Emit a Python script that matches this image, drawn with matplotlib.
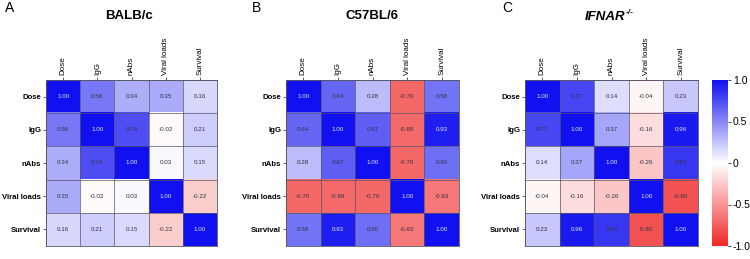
import numpy as np
import matplotlib
matplotlib.use("Agg")
import matplotlib.pyplot as plt
from matplotlib.colors import LinearSegmentedColormap

plt.rcParams['font.family'] = ['Liberation Sans', 'DejaVu Sans']

labels = ["Dose", "IgG", "nAbs", "Viral loads", "Survival"]

balbc = [
    [1.00, 0.56, 0.34, 0.35, 0.16],
    [0.56, 1.00, 0.74, -0.02, 0.21],
    [0.34, 0.74, 1.00, 0.03, 0.15],
    [0.35, -0.02, 0.03, 1.00, -0.22],
    [0.16, 0.21, 0.15, -0.22, 1.00],
]
c57 = [
    [1.00, 0.64, 0.28, -0.70, 0.58],
    [0.64, 1.00, 0.67, -0.69, 0.93],
    [0.28, 0.67, 1.00, -0.70, 0.60],
    [-0.70, -0.69, -0.70, 1.00, -0.63],
    [0.58, 0.93, 0.60, -0.63, 1.00],
]
ifnar = [
    [1.00, 0.77, 0.14, -0.04, 0.23],
    [0.77, 1.00, 0.37, -0.16, 0.96],
    [0.14, 0.37, 1.00, -0.26, 0.83],
    [-0.04, -0.16, -0.26, 1.00, -0.80],
    [0.23, 0.96, 0.83, -0.80, 1.00],
]
panel_letters = ["A", "B", "C"]
cbar_ticks = [1.0, 0.5, 0, -0.5, -1.0]
cbar_ticklabels = ["1.0", "0.5", "0", "-0.5", "-1.0"]

cmap = LinearSegmentedColormap.from_list(
    "rwb", [(0.0, "#f02828"), (0.5, "#ffffff"), (1.0, "#1010f0")])

fig = plt.figure(figsize=(7.5, 2.59), dpi=100)
W, H = 750, 259

def px_axes(left, top, right, bottom):
    return fig.add_axes([left / W, 1 - bottom / H, (right - left) / W, (bottom - top) / H])

positions = [(46, 80, 217, 246), (286, 80, 459, 246), (525, 80, 698, 246)]
datasets = [balbc, c57, ifnar]

im = None
for (l, t, r, b), data in zip(positions, datasets):
    ax = px_axes(l, t, r, b)
    arr = np.array(data)
    im = ax.imshow(arr, cmap=cmap, vmin=-1, vmax=1, aspect='auto')
    n = len(labels)
    for i in range(n):
        for j in range(n):
            v = arr[i, j]
            col = "#e8e8f8" if v > 0.85 else "#333344"
            ax.text(j, i, f"{v:.2f}", ha='center', va='center', fontsize=4.5, color=col)
    ax.set_xticks(range(n))
    ax.set_yticks(range(n))
    ax.set_xticklabels(labels, rotation=90, fontsize=5.8)
    ax.set_yticklabels(labels, fontsize=5.6, fontweight='bold')
    ax.xaxis.tick_top()
    ax.tick_params(axis='both', length=2.5, width=0.5, pad=1.0, colors='#222222', labelcolor='black')
    ax.set_xticks(np.arange(-0.5, n, 1), minor=True)
    ax.set_yticks(np.arange(-0.5, n, 1), minor=True)
    ax.grid(which='minor', color='#555566', linewidth=0.5)
    ax.tick_params(which='minor', length=0)
    for s in ax.spines.values():
        s.set_color('#555566')
        s.set_linewidth(0.6)

# titles
fig.text(129 / W, 1 - 16 / H, "BALB/c", ha='center', va='center', fontsize=9.5, fontweight='bold')
fig.text(372 / W, 1 - 16 / H, "C57BL/6", ha='center', va='center', fontsize=9.5, fontweight='bold')
fig.text(625 / W, 1 - 17 / H, "IFNAR", ha='right', va='center', fontsize=9.5, fontweight='bold', style='italic')
fig.text(625.5 / W, 1 - 12 / H, "-/-", ha='left', va='center', fontsize=6, fontweight='bold', style='italic')

for letter, x in zip(panel_letters, [5, 252, 502]):
    fig.text(x / W, 1 - 8 / H, letter, ha='left', va='center', fontsize=10)

cax = px_axes(712, 80, 728, 246)
cb = fig.colorbar(im, cax=cax)
cb.set_ticks(cbar_ticks)
cb.set_ticklabels(cbar_ticklabels)
cb.ax.tick_params(labelsize=7.5, length=2, width=0.5, pad=1.5)
cb.outline.set_visible(False)

fig.savefig("out.png", dpi=100)
